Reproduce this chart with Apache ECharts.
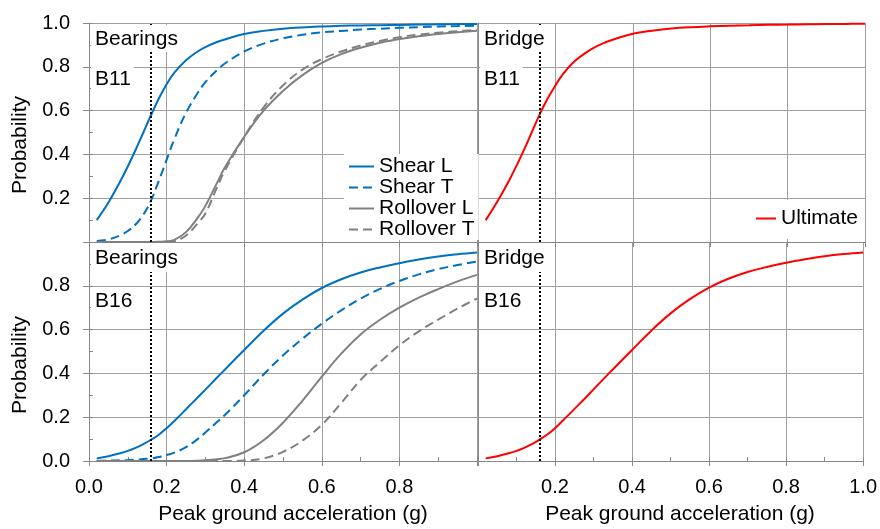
<!DOCTYPE html>
<html>
<head>
<meta charset="utf-8">
<script src="https://cdn.jsdelivr.net/npm/echarts@6/dist/echarts.min.js"></script>
<style>
html,body{margin:0;padding:0;background:#fff;}
#c{width:880px;height:529px;}
</style>
</head>
<body>
<div id="c"></div>
<script>
// ---- data ----
const pga = [0.02,0.05,0.08,0.1,0.12,0.14,0.16,0.18,0.2,0.22,0.25,0.28,0.3,0.33,0.35,0.4,0.45,0.5,0.55,0.6,0.65,0.7,0.75,0.8,0.85,0.9,0.95,1.0];

// B11 bearings
const b11ShearL    = [0.10,0.18,0.275,0.345,0.42,0.50,0.58,0.655,0.72,0.773,0.83,0.87,0.89,0.913,0.925,0.95,0.964,0.974,0.98,0.984,0.987,0.989,0.99,0.991,0.993,0.994,0.995,0.996];
const b11ShearT    = [0.005,0.012,0.03,0.05,0.08,0.125,0.19,0.28,0.375,0.47,0.59,0.68,0.73,0.785,0.815,0.87,0.906,0.93,0.946,0.957,0.964,0.97,0.974,0.978,0.981,0.984,0.986,0.988];
const b11RollL     = [0,0,0,0,0,0,0,0.001,0.003,0.01,0.045,0.11,0.165,0.27,0.34,0.48,0.6,0.69,0.762,0.818,0.858,0.887,0.91,0.927,0.94,0.95,0.958,0.965];
const b11RollT     = [0,0,0,0,0,0,0,0,0.001,0.004,0.03,0.085,0.13,0.25,0.325,0.48,0.615,0.715,0.787,0.835,0.87,0.897,0.918,0.935,0.947,0.956,0.963,0.968];
// B11 bridge
const b11Ultimate  = [0.10,0.185,0.28,0.35,0.425,0.505,0.585,0.655,0.715,0.768,0.826,0.866,0.888,0.912,0.925,0.951,0.965,0.975,0.981,0.985,0.988,0.99,0.992,0.993,0.994,0.995,0.996,0.997];

// B16 bearings
const b16ShearL    = [0.012,0.022,0.035,0.046,0.06,0.077,0.097,0.12,0.15,0.183,0.236,0.29,0.326,0.381,0.417,0.507,0.595,0.673,0.737,0.79,0.83,0.861,0.884,0.903,0.92,0.934,0.944,0.952];
const b16ShearT    = [0.001,0.002,0.003,0.004,0.006,0.009,0.012,0.018,0.027,0.038,0.063,0.1,0.13,0.178,0.21,0.3,0.395,0.482,0.558,0.627,0.688,0.742,0.786,0.822,0.852,0.876,0.895,0.911];
const b16RollL     = [0,0,0,0,0,0,0,0,0,0,0,0.001,0.003,0.008,0.013,0.04,0.095,0.175,0.275,0.385,0.49,0.578,0.645,0.7,0.746,0.785,0.82,0.85];
const b16RollT     = [0,0,0,0,0,0,0,0,0,0,0,0,0,0,0,0.002,0.012,0.042,0.093,0.165,0.265,0.37,0.452,0.528,0.592,0.646,0.696,0.742];
// B16 bridge
const b16Ultimate  = [0.012,0.022,0.035,0.046,0.06,0.077,0.098,0.121,0.15,0.184,0.237,0.29,0.327,0.382,0.418,0.507,0.595,0.674,0.739,0.792,0.832,0.863,0.886,0.905,0.921,0.935,0.945,0.952];

const seriesNames = ['Shear L','Shear T','Rollover L','Rollover T'];
const bridgeName = 'Ultimate';
const tickLabels = ['0.0','0.2','0.4','0.6','0.8','1.0'];
const designPGA = 0.16;
const xTitle = 'Peak ground acceleration (g)';
const yTitle = 'Probability';

// ---- styling ----
const FONT = '"Liberation Sans", Arial, sans-serif';
const BLUE = '#0070C0', GREY = '#808080', RED = '#FF0000';
const GRIDC = '#a0a0a0', AXC = '#888888';
const DASH = [9,5];

function lbl(v){ return tickLabels[Math.round(v/0.2)]; }

const grids = [
  {left:89, top:23, width:388, height:219},
  {left:478, top:23, width:387, height:219},
  {left:89, top:242, width:388, height:219},
  {left:478, top:242, width:387, height:219}
];

const xAxes = [], yAxes = [];
for (let g = 0; g < 4; g++) {
  const bottomRow = g >= 2, rightCol = g % 2 === 1;
  xAxes.push({
    type:'value', gridIndex:g, min:0, max:1, interval:0.2, position:'bottom',
    axisLine:{show:true, lineStyle:{color:AXC, width:1}},
    axisTick:{show:true, inside:false, length:5, lineStyle:{color:AXC}},
    splitLine:{show:true, lineStyle:{color:GRIDC, width:1}},
    axisLabel:{
      show:bottomRow, margin:16, fontSize:20, fontFamily:FONT, color:'#000',
      formatter:function(v){
        if (!rightCol && v > 0.99) return '';
        if (rightCol && v < 0.01) return '';
        return lbl(v);
      }
    }
  });
  xAxes.push({
    type:'value', gridIndex:g, min:0, max:1, interval:0.1, position:'bottom',
    axisLine:{show:false}, splitLine:{show:false}, axisLabel:{show:false},
    axisTick:{show:bottomRow, inside:true, length:4, lineStyle:{color:AXC}}
  });
  yAxes.push({
    type:'value', gridIndex:g, min:0, max:1, interval:0.2, position:'left',
    axisLine:{show:true, lineStyle:{color:AXC, width:1}},
    axisTick:{show:!rightCol, inside:false, length:6, lineStyle:{color:AXC}},
    splitLine:{show:true, lineStyle:{color:GRIDC, width:1}},
    axisLabel:{
      show:!rightCol, margin:19, fontSize:20, fontFamily:FONT, color:'#000',
      formatter:function(v){
        if (!bottomRow && v < 0.01) return '';
        if (bottomRow && v > 0.99) return '';
        return lbl(v);
      }
    }
  });
  yAxes.push({
    type:'value', gridIndex:g, min:0, max:1, interval:0.1, position:'left',
    axisLine:{show:false}, splitLine:{show:false}, axisLabel:{show:false},
    axisTick:{show:!rightCol, inside:true, length:4, lineStyle:{color:AXC}}
  });
}

function pairs(vals){ return pga.map((x,i)=>[x, vals[i]]); }

function line(name, vals, g, color, dashed, withMark){
  const s = {
    name:name, type:'line', xAxisIndex:g*2, yAxisIndex:g*2,
    data:pairs(vals), symbol:'none', smooth:0.4, clip:true,
    lineStyle:{color:color, width:2, type: dashed ? DASH : 'solid'},
    itemStyle:{color:color},
    emphasis:{disabled:true}, animation:false
  };
  if (withMark) {
    s.markLine = {
      silent:true, symbol:['none','none'], label:{show:false},
      lineStyle:{color:'#000', width:2, type:[2,2]},
      emphasis:{disabled:true},
      data:[{xAxis:designPGA}]
    };
  }
  return s;
}

const series = [
  line(seriesNames[0], b11ShearL, 0, BLUE, false, true),
  line(seriesNames[1], b11ShearT, 0, BLUE, true, false),
  line(seriesNames[2], b11RollL, 0, GREY, false, false),
  line(seriesNames[3], b11RollT, 0, GREY, true, false),
  line(bridgeName, b11Ultimate, 1, RED, false, true),
  line(seriesNames[0], b16ShearL, 2, BLUE, false, true),
  line(seriesNames[1], b16ShearT, 2, BLUE, true, false),
  line(seriesNames[2], b16RollL, 2, GREY, false, false),
  line(seriesNames[3], b16RollT, 2, GREY, true, false),
  line(bridgeName, b16Ultimate, 3, RED, false, true)
];

function tx(text, x, y, pad){
  return {type:'text', x:x, y:y, z:100, silent:true,
    style:{text:text, font:'21px ' + FONT, fill:'#000', backgroundColor:'#fff', padding:pad}};
}
function title(text, x, y, rot){
  return {type:'text', x:x, y:y, rotation:rot, z:100, silent:true,
    style:{text:text, font:'21px ' + FONT, fill:'#000', align:'center', verticalAlign:'middle'}};
}

const option = {
  backgroundColor:'#fff',
  animation:false,
  grid:grids,
  xAxis:xAxes,
  yAxis:yAxes,
  legend:[
    {
      data:seriesNames, orient:'vertical', left:344, top:154,
      itemWidth:25, itemHeight:10, itemGap:0, padding:[2,4,0,4],
      backgroundColor:'#fff', selectedMode:false,
      lineStyle:{width:2},
      itemStyle:{opacity:0},
      textStyle:{fontSize:21, fontFamily:FONT, color:'#000'}
    },
    {
      data:[bridgeName], orient:'vertical', left:749, top:200,
      itemWidth:20, itemHeight:10, padding:[8,6,10,6],
      backgroundColor:'#fff', selectedMode:false,
      lineStyle:{width:2},
      itemStyle:{opacity:0},
      textStyle:{fontSize:21, fontFamily:FONT, color:'#000'}
    }
  ],
  graphic:[
    tx('Bearings', 91, 25, [4,4,2,4]),
    tx('B11', 91, 67, [2,3,2,4]),
    tx('Bridge', 480, 25, [4,4,2,4]),
    tx('B11', 480, 67, [2,3,2,4]),
    tx('Bearings', 91, 243, [5,4,3,4]),
    tx('B16', 91, 289, [2,3,2,4]),
    tx('Bridge', 480, 243, [5,4,3,4]),
    tx('B16', 480, 289, [2,3,2,4]),
    title(yTitle, 20, 145, Math.PI/2),
    title(yTitle, 20, 365, Math.PI/2),
    title(xTitle, 293, 514, 0),
    title(xTitle, 680, 514, 0)
  ],
  series:series
};

const chart = echarts.init(document.getElementById('c'), null, {renderer:'canvas'});
chart.setOption(option);
</script>
</body>
</html>
